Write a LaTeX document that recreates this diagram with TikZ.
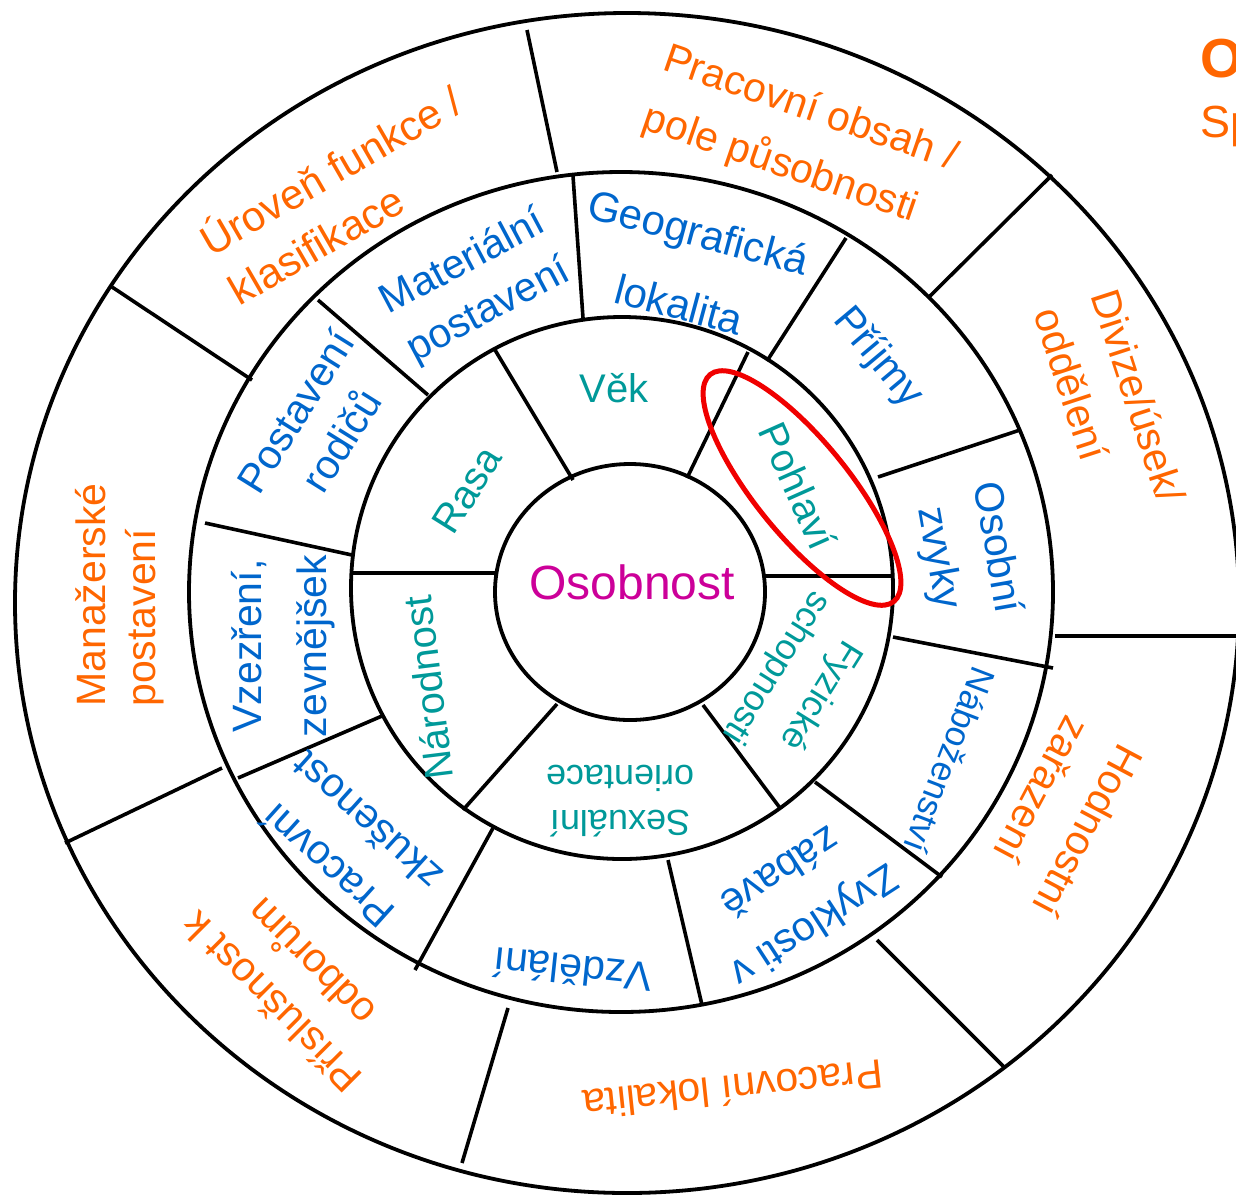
\documentclass[tikz,border=0pt]{standalone}
\usepackage{fontspec}
\setmainfont{Liberation Sans}
\usetikzlibrary{positioning}
\definecolor{oranz}{RGB}{255,102,0}
\definecolor{modra}{RGB}{0,102,204}
\definecolor{tyrkys}{RGB}{0,153,153}
\definecolor{fialova}{RGB}{204,0,153}
\definecolor{cervena}{RGB}{240,0,0}

\begin{document}
\begin{tikzpicture}[x=1pt,y=-1pt,
    kruh/.style={line width=3.8pt},
    cara/.style={line width=3.6pt},
    vnejsi/.style={text=oranz,inner sep=0pt,font=\fontsize{41}{58}\selectfont},
    stredni/.style={text=modra,inner sep=0pt,align=center,font=\fontsize{41}{54}\selectfont},
    vnitrni/.style={text=tyrkys,inner sep=0pt,align=center,font=\fontsize{40}{50}\selectfont}]

    \useasboundingbox (0,0) rectangle (1236,1195);

    % kruhy
    \draw[kruh] (627,603) ellipse [x radius=612pt, y radius=590pt];
    \draw[kruh] (621,592) ellipse [x radius=432pt, y radius=420pt];
    \draw[kruh] (622,588) circle [radius=271pt];
    \draw[kruh] (630,592) ellipse [x radius=135pt, y radius=128pt];

    % vnitrni mezikruzi
    \draw[cara] (352,573) -- (495,573);
    \draw[cara] (495,350) -- (573,480);
    \draw[cara] (748,352) -- (687,478);
    \draw[cara] (765,576) -- (893,576);
    \draw[cara] (703,705) -- (780,808);
    \draw[cara] (557,704) -- (463,810);

    % stredni mezikruzi
    \draw[cara] (573,176) -- (583,318);
    \draw[cara] (846,238) -- (767,361);
    \draw[cara] (1020,430) -- (878,477);
    \draw[cara] (893,637) -- (1053,668);
    \draw[cara] (815,782) -- (942,877);
    \draw[cara] (668,860) -- (702,1005);
    \draw[cara] (493,828) -- (415,970);
    \draw[cara] (382,716) -- (238,778);
    \draw[cara] (352,555) -- (205,523);
    \draw[cara] (428,395) -- (318,300);

    % vnejsi mezikruzi
    \draw[cara] (527,30) -- (557,172);
    \draw[cara] (1052,175) -- (928,298);
    \draw[cara] (1055,636) -- (1240,636);
    \draw[cara] (877,940) -- (1005,1068);
    \draw[cara] (508,1008) -- (462,1163);
    \draw[cara] (65,843) -- (222,768);
    \draw[cara] (112,287) -- (252,380);

    % stred
    \node[inner sep=0pt,text=fialova,font=\fontsize{48}{50}\selectfont] (osobnost) at (632,582) {Osobnost};

    % vnitrni popisky
    \node[vnitrni] (vek) at (614,388) {Věk};
    \node[vnitrni,rotate=58] (rasa) at (467,490) {Rasa};
    \node[vnitrni,rotate=-66] (pohlavi) at (798,486) {Pohlaví};
    \node[vnitrni,rotate=97] (narodnost) at (428,688) {Národnost};
    \node[vnitrni,rotate=180,font=\fontsize{36}{45}\selectfont] (sexualni) at (620,801) {Sexuální\\orientace};
    \node[vnitrni,rotate=-122,font=\fontsize{36}{52}\selectfont] (fyzicke) at (798,681) {Fyzické\\schopnosti};

    % stredni popisky
    \node[stredni,rotate=-15,font=\fontsize{42}{75}\selectfont] (geo) at (689,268) {Geografická\\lokalita};
    \node[stredni,rotate=28] (material) at (476,287) {Materiální\\postavení};
    \node[stredni,rotate=58] (rodice) at (318,426) {Postavení\\rodičů};
    \node[stredni,rotate=90,font=\fontsize{41}{65}\selectfont] (vzezreni) at (283,646) {Vzezření,\\zevnějšek};
    \node[stredni,rotate=138,font=\fontsize{41}{59}\selectfont] (zkusenost) at (347,844) {Pracovní\\zkušenost};
    \node[stredni,rotate=174] (vzdelani) at (573,970) {Vzdělání};
    \node[stredni,rotate=-147,font=\fontsize{41}{64}\selectfont] (zabava) at (798,900) {Zvyklosti v\\zábavě};
    \node[stredni,rotate=-111,font=\fontsize{35}{40}\selectfont] (nabozenstvi) at (950,760) {Náboženství};
    \node[stredni,rotate=-80,font=\fontsize{41}{59}\selectfont] (zvyky) at (967,553) {Osobní\\zvyky};
    \node[stredni,rotate=-50] (prijmy) at (878,358) {Příjmy};

    % vnejsi popisky
    \node[vnejsi,rotate=30,align=left,font=\fontsize{42}{57}\selectfont] (uroven) at (344,193) {Úroveň funkce /\\klasifikace};
    \node[vnejsi,rotate=-19,align=left,font=\fontsize{41}{62}\selectfont] (obsah) at (800,139) {Pracovní obsah /\\pole působnosti};
    \node[vnejsi,rotate=-72,align=left,font=\fontsize{41}{60}\selectfont] (divize) at (1110,405) {Divize/úsek/\\oddělení};
    \node[vnejsi,rotate=-118,align=left,font=\fontsize{41}{60}\selectfont] (hodnost) at (1062,817) {Hodnostní\\zařazení};
    \node[vnejsi,rotate=186] (lokalita) at (733,1090) {Pracovní lokalita};
    \node[vnejsi,rotate=135,align=center,font=\fontsize{41}{56}\selectfont] (odbory) at (291,983) {Příslušnost k\\odborům};
    \node[vnejsi,rotate=90,align=left,font=\fontsize{41}{50}\selectfont] (manazer) at (120,595) {Manažerské\\postavení};

    % zvyrazneni
    \draw[cervena,line width=5pt,rotate around={-51:(802,488)}] (802,488) ellipse [x radius=146pt, y radius=47pt];

    % useknuty text vpravo
    \node[anchor=base west,inner sep=0pt,text=oranz,font=\bfseries\fontsize{55}{60}\selectfont] (nadpis) at (1200,77) {O};
    \node[anchor=base west,inner sep=0pt,text=oranz,font=\fontsize{45}{50}\selectfont] (podnadpis) at (1200,137) {Sp};

\end{tikzpicture}
\end{document}
